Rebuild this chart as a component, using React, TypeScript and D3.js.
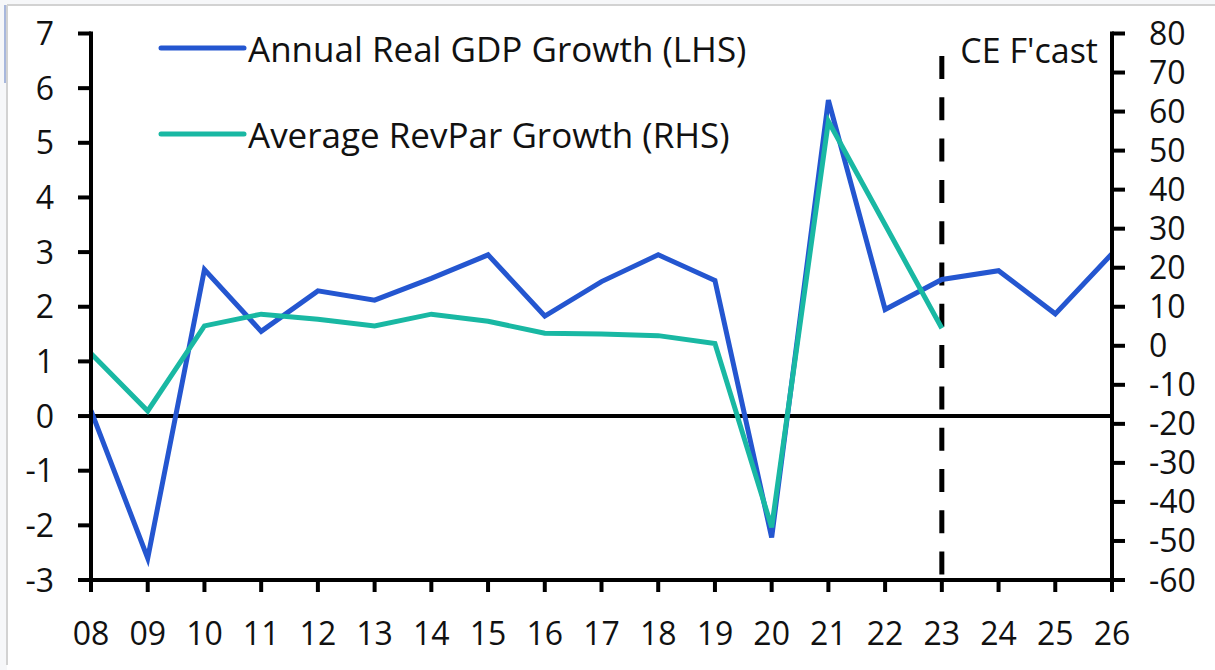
import React from "react";
import * as d3 from "d3";

const years = ["08","09","10","11","12","13","14","15","16","17","18","19","20","21","22","23","24","25","26"];
const gdpGrowth = [0.1,-2.6,2.68,1.55,2.29,2.12,2.52,2.95,1.83,2.46,2.95,2.48,-2.22,5.78,1.95,2.5,2.66,1.87,2.97];
const revparGrowth = [-2.0,-16.7,5.1,8.1,6.8,5.1,8.1,6.3,3.2,3.0,2.6,0.6,-46.5,57.5,31,4.5];
const leftTicks = [7,6,5,4,3,2,1,0,-1,-2,-3];
const rightTicks = [80,70,60,50,40,30,20,10,0,-10,-20,-30,-40,-50,-60];
const forecastStart = "23";
const legendLabels = ["Annual Real GDP Growth (LHS)", "Average RevPar Growth (RHS)"];

const W = 1215, H = 670;
const FONT = "'Open Sans', 'Noto Sans', sans-serif";
const BLUE = "#2456d0";
const TEAL = "#19b8a3";

export default function App() {
  const x = d3.scalePoint<string>().domain(years).range([91, 1112]);
  const yL = d3.scaleLinear().domain([-3, 7]).range([580, 33.5]);
  const yR = d3.scaleLinear().domain([-60, 80]).range([580, 33.5]);

  const lineL = d3.line<number>().x((_, i) => x(years[i])!).y((d) => yL(d));
  const lineR = d3.line<number>().x((_, i) => x(years[i])!).y((d) => yR(d));

  const x0 = x.range()[0];
  const x1 = x.range()[1];
  const fx = x(forecastStart)!;

  return (
    <div style={{ position: "fixed", left: 0, top: 0 }}>
      <svg width={W} height={H} style={{ display: "block" }} fontFamily={FONT}>
        <rect x={0} y={0} width={W} height={H} fill="#f6f7f9" />
        <rect x={7} y={5} width={W - 7} height={H - 5} fill="#ffffff" />
        <line x1={7} y1={5} x2={W} y2={5} stroke="#d2d2d2" strokeWidth={2} />
        <line x1={7} y1={5} x2={7} y2={665} stroke="#d2d2d2" strokeWidth={2} />
        <line x1={5} y1={5} x2={5} y2={83} stroke="#5a78c0" strokeWidth={1} />

        {/* zero line */}
        <line x1={x0} x2={x1} y1={yL(0)} y2={yL(0)} stroke="#000" strokeWidth={4} />

        {/* forecast divider */}
        <line x1={fx} x2={fx} y1={56} y2={580} stroke="#000" strokeWidth={5} strokeDasharray="23 18.3" />
        <text x={1098} y={63} fontSize={34} textAnchor="end" fill="#111">CE F'cast</text>

        {/* series */}
        <path d={lineL(gdpGrowth)!} fill="none" stroke={BLUE} strokeWidth={5} strokeLinejoin="miter" />
        <path d={lineR(revparGrowth)!} fill="none" stroke={TEAL} strokeWidth={5} strokeLinejoin="miter" />

        {/* left axis */}
        <line x1={x0} x2={x0} y1={yL(7) - 2} y2={580 + 2} stroke="#000" strokeWidth={4} />
        {leftTicks.map((t) => (
          <g key={"l" + t}>
            <line x1={78} x2={x0} y1={yL(t)} y2={yL(t)} stroke="#000" strokeWidth={4} />
            <text x={54} y={yL(t)} dy="0.36em" fontSize={32} textAnchor="end" fill="#111">{t}</text>
          </g>
        ))}

        {/* right axis */}
        <line x1={x1} x2={x1} y1={yR(80) - 2} y2={580 + 2} stroke="#000" strokeWidth={4} />
        {rightTicks.map((t) => (
          <g key={"r" + t}>
            <line x1={x1} x2={1125} y1={yR(t)} y2={yR(t)} stroke="#000" strokeWidth={4} />
            <text x={1149} y={yR(t)} dy="0.36em" fontSize={32} textAnchor="start" fill="#111">{t}</text>
          </g>
        ))}

        {/* bottom axis */}
        <line x1={x0 - 2} x2={x1 + 2} y1={580} y2={580} stroke="#000" strokeWidth={4} />
        {years.map((yr) => (
          <g key={"b" + yr}>
            <line x1={x(yr)!} x2={x(yr)!} y1={580} y2={592} stroke="#000" strokeWidth={4} />
            <text x={x(yr)!} y={645} fontSize={32} textAnchor="middle" fill="#111">{yr}</text>
          </g>
        ))}

        {/* legend */}
        <line x1={161} x2={244} y1={48} y2={48} stroke={BLUE} strokeWidth={5} strokeLinecap="round" />
        <text x={248} y={62} fontSize={35} fill="#111">{legendLabels[0]}</text>
        <line x1={161} x2={244} y1={134} y2={134} stroke={TEAL} strokeWidth={5} strokeLinecap="round" />
        <text x={248} y={148} fontSize={35} fill="#111">{legendLabels[1]}</text>
      </svg>
    </div>
  );
}
